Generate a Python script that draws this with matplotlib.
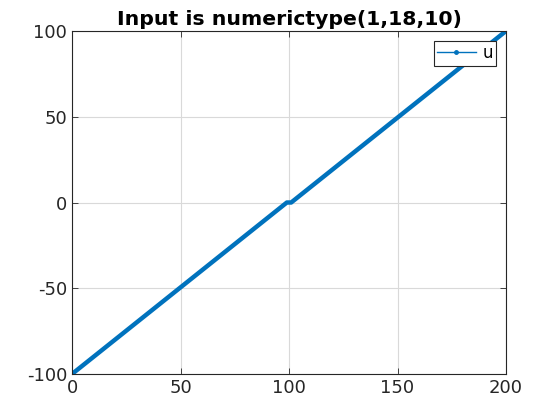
import matplotlib
matplotlib.use("Agg")
import matplotlib.pyplot as plt
from matplotlib.lines import Line2D

x_vals = [0, 99, 101, 200]
u_vals = [-100, 0, 0, 100]
xticks = [0, 50, 100, 150, 200]
yticks = [-100, -50, 0, 50, 100]
title = "Input is numerictype(1,18,10)"

plt.rcParams['font.family'] = ['DejaVu Sans']
fig = plt.figure(figsize=(5.6, 4.2), dpi=100)
ax = fig.add_axes([0.1286, 0.1095, 0.775, 0.8167])
color = '#0072BD'
ax.plot(x_vals, u_vals, '-', color=color, linewidth=3.2, solid_capstyle='butt')
ax.set_xlim(0, 200)
ax.set_ylim(-100, 100)
ax.set_xticks(xticks)
ax.set_yticks(yticks)
ax.set_xticklabels([str(t) for t in xticks])
ax.set_yticklabels([str(t) for t in yticks])
ax.grid(True, color='#d9d9d9', linewidth=0.8)
ax.set_axisbelow(True)
ax.tick_params(direction='in', labelsize=13, length=4, width=0.6, top=True, right=True,
               labeltop=False, labelright=False, colors='#262626')
for s in ax.spines.values():
    s.set_color('#262626')
    s.set_linewidth(0.8)
ax.set_title(title, fontsize=14.7, fontweight='bold', pad=4)
h = Line2D([], [], color=color, linewidth=1, marker='.', markersize=5)
leg = ax.legend([h], ['u'], loc='upper right', fontsize=12, fancybox=False,
                framealpha=1, edgecolor='#262626', borderaxespad=0.6,
                handlelength=2.3, borderpad=0.2, handletextpad=0.4)
leg.get_frame().set_linewidth(0.8)
fig.savefig('out.png', dpi=100)
